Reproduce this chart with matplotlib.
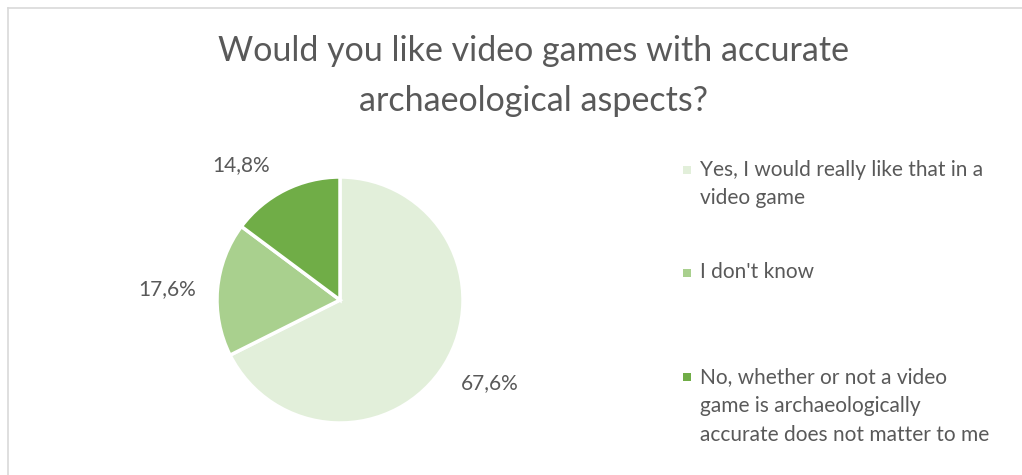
import numpy as np
import matplotlib.pyplot as plt
from matplotlib.patches import Rectangle
from matplotlib.lines import Line2D

plt.rcParams['font.family'] = ['Lato', 'DejaVu Sans']

# -------------------------
# Survey answers
# -------------------------

answers = [
    'Yes, I would really like that in a\nvideo game',
    "I don't know",
    'No, whether or not a video\ngame is archaeologically\naccurate does not matter to me',
]
shares = [67.6, 17.6, 14.8]
colors = ['#E2EFDA', '#A9D08E', '#70AD47']

title = 'Would you like video games with accurate\narchaeological aspects?'
text_grey = '#595959'

# -------------------------
# Figure
# -------------------------

W, H = 1022, 475
fig = plt.figure(figsize=(W / 100, H / 100), dpi=100)

# chart frame
fig.add_artist(Line2D([8 / W, 8 / W], [0, 1 - 8 / H], color='#D9D9D9', lw=1.2))
fig.add_artist(Line2D([8 / W, 1], [1 - 8 / H, 1 - 8 / H], color='#D9D9D9', lw=1.2))

# multi-line text with va='baseline' sits on its last line
fig.text(533 / W, 1 - 111 / H, title, ha='center', va='baseline', ma='center',
         fontsize=24.5, color=text_grey, linespacing=1.68)

# pie axes: centre (340, 300), radius 123 px
r_px = 123
ax = fig.add_axes([(340 - r_px) / W, (H - 300 - r_px) / H, 2 * r_px / W, 2 * r_px / H])

wedges, _, autotexts = ax.pie(
    shares,
    colors=colors,
    startangle=90,
    counterclock=False,
    autopct=lambda p: f'{p:.1f}%'.replace('.', ','),
    pctdistance=1.39,
    wedgeprops=dict(edgecolor='white', linewidth=2.5),
    textprops=dict(fontsize=15, color=text_grey),
)
ax.set_xlim(-1, 1)
ax.set_ylim(-1, 1)
ax.set_aspect('equal')

# best-fit nudges for the outside labels (in points)
nudges = [(3, 5), (-2, -3), (-16, -13)]
for t, (dx, dy) in zip(autotexts, nudges):
    x, y = t.get_position()
    t.set_position((x + dx / 72 / (r_px / 100), y + dy / 72 / (r_px / 100)))

# -------------------------
# Legend
# -------------------------

legend_baselines = [175, 278, 382]
line_px = 29.5
for label, color, y in zip(answers, colors, legend_baselines):
    n_lines = label.count('\n') + 1
    fig.add_artist(Rectangle((683 / W, 1 - (y - 1) / H), 8 / W, 8 / H,
                             facecolor=color, edgecolor='none'))
    fig.text(700 / W, 1 - (y + (n_lines - 1) * line_px) / H, label,
             ha='left', va='baseline', fontsize=15, color=text_grey,
             linespacing=1.55)

plt.savefig('out.png', dpi=100)
